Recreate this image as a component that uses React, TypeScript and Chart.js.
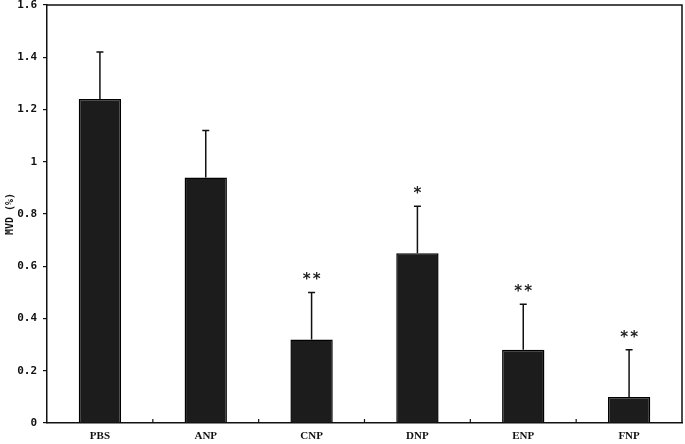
import React, { useEffect, useRef } from "react";
import { Chart, registerables } from "chart.js";

Chart.register(...registerables);

const categories = ["PBS", "ANP", "CNP", "DNP", "ENP", "FNP"];
const meanValues = [1.24, 0.94, 0.32, 0.65, 0.28, 0.1];
const errorValues = [0.18, 0.18, 0.18, 0.18, 0.175, 0.18];
const significance = ["", "", "**", "*", "**", "**"];
const yTickValues = [0, 0.2, 0.4, 0.6, 0.8, 1, 1.2, 1.4, 1.6];
const yTitle = "MVD (%)";

const overlayPlugin = {
  id: "overlay",
  afterDatasetsDraw(chart: any) {
    const ctx = chart.ctx;
    const { left, right, top, bottom } = chart.chartArea;
    const x = chart.scales.x;
    const y = chart.scales.y;
    ctx.save();
    ctx.strokeStyle = "#111";
    ctx.lineWidth = 1.5;
    ctx.beginPath();
    ctx.moveTo(left, top);
    ctx.lineTo(right, top);
    ctx.lineTo(right, bottom);
    ctx.stroke();
    ctx.lineWidth = 1.2;
    for (let i = 0; i < categories.length - 1; i++) {
      const bx = (x.getPixelForValue(i) + x.getPixelForValue(i + 1)) / 2;
      ctx.beginPath();
      ctx.moveTo(bx, bottom);
      ctx.lineTo(bx, bottom - 4);
      ctx.stroke();
    }
    ctx.lineWidth = 1.5;
    meanValues.forEach((v, i) => {
      const cx = x.getPixelForValue(i);
      const y0 = y.getPixelForValue(v);
      const y1 = y.getPixelForValue(v + errorValues[i]);
      ctx.beginPath();
      ctx.moveTo(cx, y0);
      ctx.lineTo(cx, y1);
      ctx.moveTo(cx - 3.5, y1);
      ctx.lineTo(cx + 3.5, y1);
      ctx.stroke();
      const s = significance[i];
      if (s) {
        ctx.fillStyle = "#222";
        ctx.font = 'bold 15px "DejaVu Sans"';
        ctx.textAlign = "center";
        ctx.textBaseline = "alphabetic";
        const n = s.length;
        for (let k = 0; k < n; k++) {
          const sx = cx + (k - (n - 1) / 2) * 10;
          ctx.fillText("*", sx, y1 - 8);
        }
      }
    });
    ctx.restore();
  },
};

export default function App() {
  const ref = useRef<HTMLCanvasElement>(null);
  useEffect(() => {
    if (!ref.current) return;
    const chart = new Chart(ref.current, {
      type: "bar",
      data: {
        labels: categories,
        datasets: [
          {
            data: meanValues,
            backgroundColor: "#1c1c1c",
            borderColor: "#000",
            borderWidth: 1.5,
            barPercentage: 0.4,
            categoryPercentage: 1,
          },
        ],
      },
      options: {
        responsive: false,
        animation: false,
        layout: { padding: { top: 5, right: 3, left: 0, bottom: 0 } },
        plugins: { legend: { display: false }, tooltip: { enabled: false } },
        scales: {
          x: {
            grid: { display: false, drawTicks: false },
            border: { display: true, color: "#111", width: 1.5 },
            ticks: {
              color: "#111",
              padding: 7,
              font: { family: '"Liberation Serif"', size: 11, weight: "bold" },
            },
            afterFit: (s: any) => {
              s.height = 21;
              s.paddingLeft = 0;
              s.paddingRight = 0;
            },
          },
          y: {
            min: 0,
            max: 1.6,
            afterBuildTicks: (s: any) => {
              s.ticks = yTickValues.map((v) => ({ value: v }));
            },
            grid: { drawOnChartArea: false, drawTicks: true, tickLength: 4, color: "#111", lineWidth: 1.2 },
            border: { display: true, color: "#111", width: 1.5 },
            ticks: {
              color: "#111",
              padding: 6,
              font: { family: '"DejaVu Sans Mono"', size: 11, weight: "bold" },
              callback: (v: any) => String(Number(v).toFixed(1)).replace(/\.0$/, ""),
            },
            title: {
              display: true,
              text: yTitle,
              color: "#111",
              font: { family: '"DejaVu Sans Mono"', size: 10, weight: "bold" },
              padding: { top: 4, bottom: 0 },
            },
            afterFit: (s: any) => {
              s.width = 47;
              s.paddingTop = 0;
              s.paddingBottom = 0;
            },
          },
        },
      },
      plugins: [overlayPlugin],
    });
    return () => chart.destroy();
  }, []);
  return (
    <div style={{ position: "absolute", left: 0, top: 0, width: 685, height: 444, background: "#fff" }}>
      <canvas ref={ref} width={685} height={444} />
    </div>
  );
}
